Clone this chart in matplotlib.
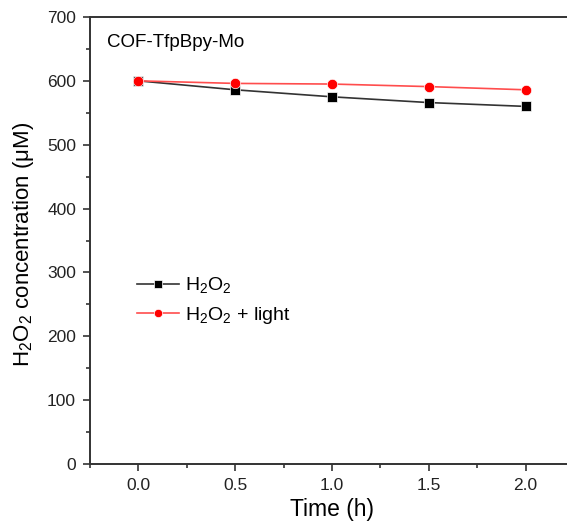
import matplotlib.pyplot as plt
from matplotlib.ticker import MultipleLocator

plt.rcParams['font.family'] = ['Liberation Sans', 'DejaVu Sans']
plt.rcParams['mathtext.fontset'] = 'custom'
plt.rcParams['mathtext.rm'] = 'Liberation Sans'

# data
time_h = [0.0, 0.5, 1.0, 1.5, 2.0]
h2o2 = [600, 586, 575, 566, 560]
h2o2_light = [600, 596, 595, 591, 586]

fig = plt.figure(figsize=(5.67, 5.23), dpi=100)
ax = fig.add_axes([90 / 567, 59 / 523, 484 / 567, 447 / 523])

ax.plot(time_h, h2o2, '-s', color='#333333', mfc='black', mec='white', mew=0.5, ms=7, lw=1.2, label='H$_2$O$_2$')
ax.plot(time_h, h2o2_light, '-o', color='#ff4d4d', mfc='red', mec='white', mew=0.5, ms=7.5, lw=1.2, label='H$_2$O$_2$ + light')

ax.set_xlim(-0.25, 2.25)
ax.set_ylim(0, 700)
ax.xaxis.set_major_locator(MultipleLocator(0.5))
ax.xaxis.set_minor_locator(MultipleLocator(0.25))
ax.yaxis.set_major_locator(MultipleLocator(100))
ax.yaxis.set_minor_locator(MultipleLocator(50))
ax.xaxis.set_major_formatter(plt.FormatStrFormatter('%.1f'))
ax.tick_params(which='both', direction='out', top=False, right=False, labelsize=12.5,
               color='#333333', labelcolor='#222222')
ax.tick_params(which='major', length=5, width=1.2, pad=5)
ax.tick_params(which='minor', length=3, width=1.2)
for s in ax.spines.values():
    s.set_linewidth(1.4)
    s.set_color('#333333')
ax.spines['right'].set_visible(False)

ax.set_xlabel('Time (h)', fontsize=16.5, labelpad=4)
ax.set_ylabel('H$_2$O$_2$ concentration (μM)', fontsize=16)
ax.yaxis.set_label_coords(-0.112, 0.49)
ax.text(0.035, 0.962, 'COF-TfpBpy-Mo', transform=ax.transAxes, fontsize=13.5, va='top')
ax.legend(loc='center left', bbox_to_anchor=(0.06, 0.365), frameon=False, fontsize=14,
          handlelength=2.2, handletextpad=0.3, labelspacing=0.45, markerscale=0.8)

plt.savefig('out.png', dpi=100)
